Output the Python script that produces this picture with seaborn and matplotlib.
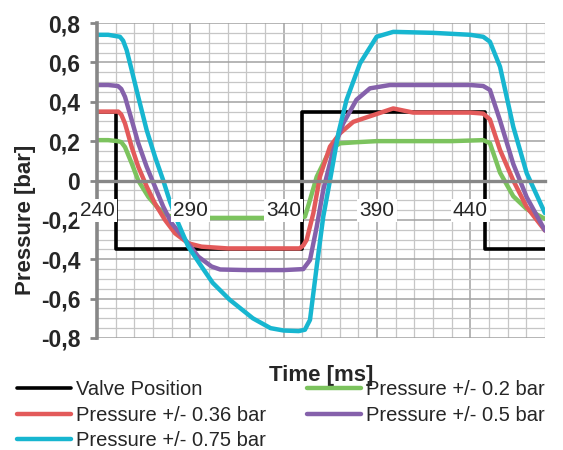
import matplotlib
matplotlib.use("Agg")
import matplotlib.pyplot as plt
import seaborn as sns
import numpy as np
from matplotlib.ticker import FixedLocator

# time [ms] / pressure [bar]
valve_t = [240, 250, 250, 350, 350, 448, 448, 480]
valve_p = [0.35, 0.35, -0.35, -0.35, 0.35, 0.35, -0.35, -0.35]

p020_t = [240, 246, 251, 253, 255, 258.6, 262.1, 267.5, 272.8, 277.3, 282, 290, 300, 320, 340, 348,
          351.4, 354.1, 357.7, 363, 366, 370.2, 380, 390, 410, 430, 446.9, 450.5, 455.9, 463, 470.2, 480]
p020_p = [0.205, 0.205, 0.2, 0.195, 0.17, 0.087, 0.0, -0.083, -0.141, -0.175, -0.19, -0.195, -0.19, -0.19, -0.19, -0.19,
          -0.184, -0.099, 0.019, 0.121, 0.165, 0.189, 0.195, 0.2, 0.2, 0.2, 0.205, 0.19, 0.04, -0.08, -0.145, -0.195]

p036_t = [240, 246, 251.4, 253, 255, 258.6, 262.1, 266.6, 271, 276.4, 281.8, 288.9, 296, 310, 330, 348.5,
          350.5, 352.3, 355.9, 359.4, 364.8, 370.2, 377.3, 388, 398.7, 409.4, 425, 440, 446.9, 450.5, 455.9,
          463, 470.2, 480]
p036_p = [0.35, 0.35, 0.35, 0.335, 0.29, 0.17, 0.07, -0.03, -0.116, -0.2, -0.268, -0.319, -0.336, -0.345, -0.345, -0.345,
          -0.33, -0.302, -0.166, 0.019, 0.172, 0.24, 0.298, 0.332, 0.366, 0.345, 0.345, 0.345, 0.34, 0.31, 0.155,
          0.0, -0.135, -0.254]

p050_t = [240, 246, 251.2, 253, 255, 258.6, 262.1, 266.6, 271, 275.5, 280, 287.1, 294.3, 301.4, 306, 320, 340,
          350.5, 354.1, 357.7, 361.2, 366.6, 371.9, 379, 386.2, 396.9, 420, 440, 446.9, 450.5, 455.9, 463,
          470.2, 480]
p050_p = [0.485, 0.485, 0.48, 0.465, 0.425, 0.307, 0.19, 0.07, -0.03, -0.133, -0.217, -0.30, -0.387, -0.437, -0.452, -0.455, -0.455,
          -0.45, -0.404, -0.235, -0.048, 0.155, 0.29, 0.41, 0.468, 0.485, 0.485, 0.485, 0.48, 0.46, 0.305, 0.084,
          -0.085, -0.254]

p075_t = [240, 246, 252.3, 254, 255.9, 258.6, 262.1, 266.6, 271.1, 275.5, 279.1, 283.5, 288.9, 296, 302, 311,
          323.5, 333, 340, 348, 351.4, 354.1, 357.7, 361.2, 364.8, 369.3, 373.7, 380.9, 389.8, 398.7, 420, 440,
          446.9, 450.5, 455.9, 463, 470.2, 480]
p075_p = [0.74, 0.74, 0.73, 0.71, 0.662, 0.56, 0.425, 0.256, 0.12, 0.0, -0.108, -0.217, -0.336, -0.437, -0.52, -0.605,
          -0.70, -0.75, -0.762, -0.765, -0.758, -0.708, -0.437, -0.184, 0.0, 0.24, 0.41, 0.595, 0.73, 0.755, 0.75, 0.74,
          0.73, 0.705, 0.578, 0.273, 0.037, -0.166]

x_ticks = [240, 290, 340, 390, 440]
y_ticks = [-0.8, -0.6, -0.4, -0.2, 0, 0.2, 0.4, 0.6, 0.8]
y_labels = ["-0,8", "-0,6", "-0,4", "-0,2", "0", "0,2", "0,4", "0,6", "0,8"]

sns.set_style("white")
plt.rcParams["font.family"] = ["Liberation Sans", "DejaVu Sans"]

axis_grey = "#878787"

fig = plt.figure(figsize=(5.63, 4.5), dpi=100)
ax = fig.add_axes([97 / 563, 1 - 338 / 450, 448 / 563, 315 / 450])

series = [
    (valve_t, valve_p, "Valve Position", "#000000", 2.6),
    (p020_t, p020_p, "Pressure +/- 0.2 bar", "#7cc35e", 3.2),
    (p036_t, p036_p, "Pressure +/- 0.36 bar", "#e35a5a", 3.2),
    (p050_t, p050_p, "Pressure +/- 0.5 bar", "#8561ab", 3.2),
    (p075_t, p075_p, "Pressure +/- 0.75 bar", "#17b6d0", 3.2),
]
for t, p, name, col, lw in series:
    sns.lineplot(x=t, y=p, ax=ax, color=col, lw=lw, label=name,
                 estimator=None, sort=False)

ax.set_xlim(240, 480)
ax.set_ylim(-0.8, 0.8)
ax.set_axisbelow(True)

ax.xaxis.set_major_locator(FixedLocator(x_ticks))
ax.xaxis.set_minor_locator(FixedLocator(np.arange(240, 481, 10)))
ax.yaxis.set_major_locator(FixedLocator(y_ticks))
ax.yaxis.set_minor_locator(FixedLocator(np.arange(-0.8, 0.801, 0.05)))
ax.set_yticklabels(y_labels)

ax.grid(which="minor", color="#c6c6c6", lw=0.9)
ax.grid(which="major", color="#a2a2a2", lw=1.1)

for s in ["top", "right"]:
    ax.spines[s].set_visible(False)
ax.spines["bottom"].set_position(("data", 0))
ax.spines["bottom"].set_color(axis_grey)
ax.spines["bottom"].set_linewidth(2.4)
ax.spines["left"].set_color(axis_grey)
ax.spines["left"].set_linewidth(2.6)

ax.tick_params(which="minor", length=0)
ax.tick_params(axis="y", which="major", direction="out", length=5, width=2,
               color=axis_grey, pad=7, labelsize=16.5)
ax.tick_params(axis="x", which="major", direction="out", length=4, width=2,
               color=axis_grey, labelbottom=False)
for lab in ax.get_yticklabels():
    lab.set_fontweight("bold")

ax.set_ylabel("Pressure [bar]", fontsize=16, fontweight="bold")
ax.yaxis.set_label_coords(-0.137, 0.375)
ax.set_xlabel("Time [ms]", fontsize=16, fontweight="bold")
ax.xaxis.set_label_coords(0.5, -0.085)

# x tick labels sit on the zero line with a white box over the curves
ax2 = ax.twinx()
ax2.set_ylim(-0.8, 0.8)
ax2.xaxis.set_visible(True)
ax2.yaxis.set_visible(False)
for s in ax2.spines.values():
    s.set_visible(False)
ax2.spines["bottom"].set_position(("data", 0))
ax2.xaxis.set_ticks_position("bottom")
ax2.tick_params(axis="x", which="both", length=0, pad=15, labelsize=15,
                labelbottom=True)
for tk in ax2.xaxis.get_major_ticks():
    tk.label1.set_bbox(dict(facecolor="white", edgecolor="none", pad=1.5))

handles, labels = ax.get_legend_handles_labels()
if ax.get_legend() is not None:
    ax.get_legend().remove()
order = [0, 2, 4, 1, 3]
fig.legend([handles[i] for i in order], [labels[i] for i in order],
           loc="upper left", bbox_to_anchor=(17 / 563, 1 - 380 / 450),
           ncol=2, frameon=False, fontsize=14.5, handlelength=2.7,
           handletextpad=0.25, columnspacing=2.0, labelspacing=0.33,
           borderpad=0, borderaxespad=0)

fig.savefig("out.png", dpi=100)
